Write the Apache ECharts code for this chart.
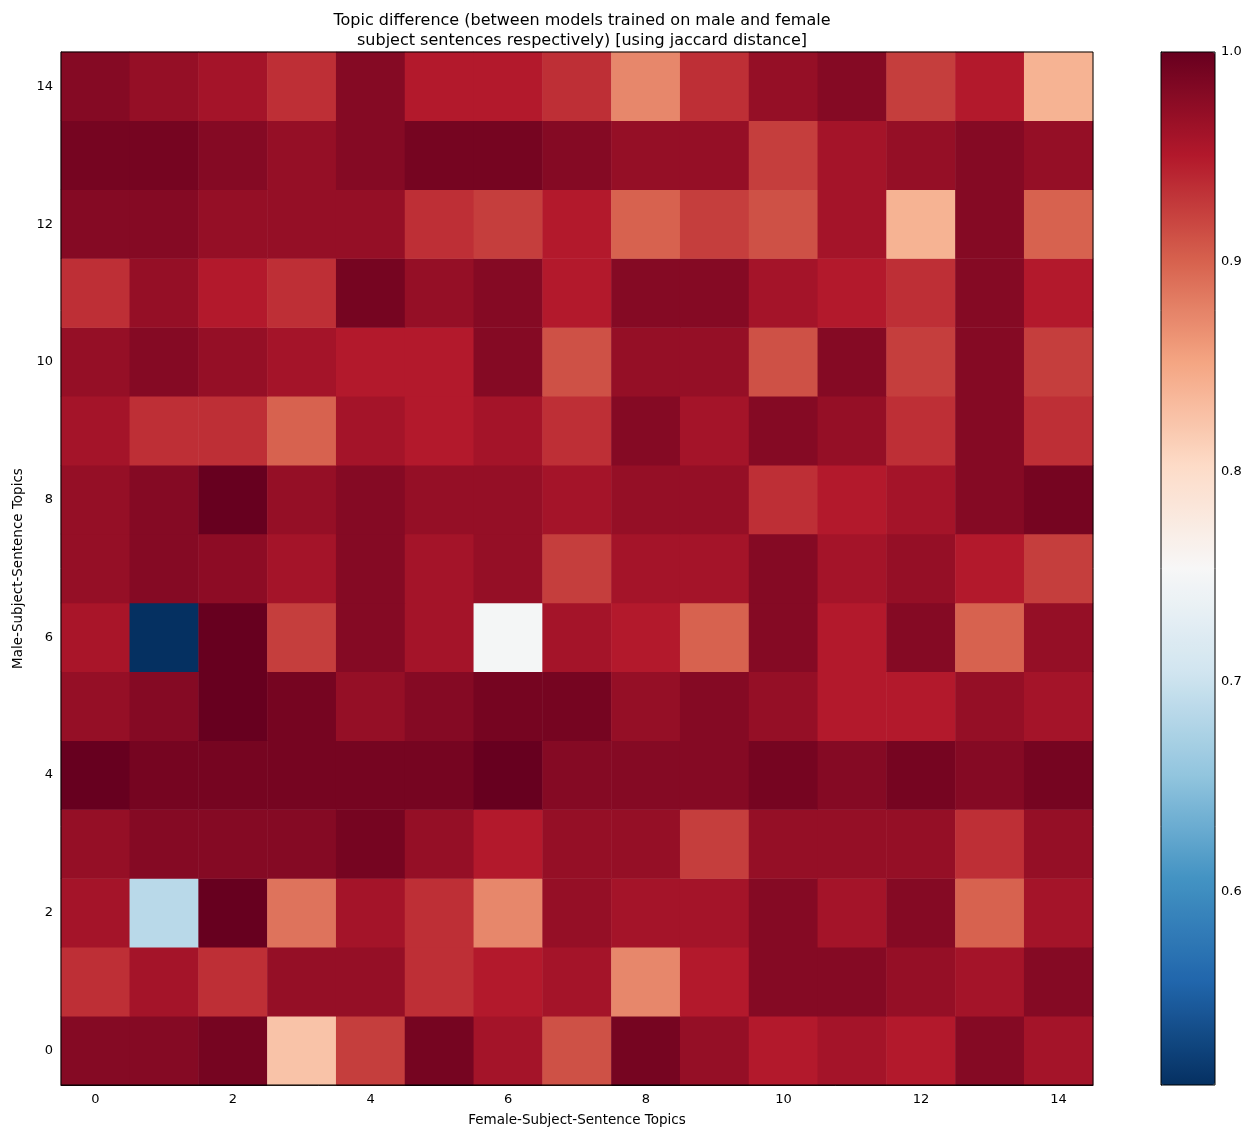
<!DOCTYPE html>
<html>
<head>
<meta charset="utf-8">
<script src="https://cdn.jsdelivr.net/npm/echarts@6/dist/echarts.min.js"></script>
<style>
  html, body { margin: 0; padding: 0; background: #fff; }
  #chart { width: 1257px; height: 1133px; }
</style>
</head>
<body>
<div id="chart"></div>
<script>
// topic ids on both axes
const femaleTopics = ['0', '1', '2', '3', '4', '5', '6', '7', '8', '9', '10', '11', '12', '13', '14']
const maleTopics = ['0', '1', '2', '3', '4', '5', '6', '7', '8', '9', '10', '11', '12', '13', '14']

// jaccard distance, one row per male topic (row 0 = bottom), columns = female topics
const row0 = [0.98, 0.98, 0.99, 0.825, 0.925, 0.99, 0.96, 0.912, 0.99, 0.97, 0.95, 0.96, 0.95, 0.98, 0.96]
const row1 = [0.935, 0.96, 0.935, 0.97, 0.97, 0.935, 0.95, 0.96, 0.874, 0.95, 0.98, 0.98, 0.97, 0.96, 0.98]
const row2 = [0.96, 0.686, 1.0, 0.888, 0.96, 0.935, 0.874, 0.97, 0.96, 0.96, 0.98, 0.96, 0.98, 0.90, 0.96]
const row3 = [0.97, 0.98, 0.98, 0.98, 0.99, 0.97, 0.95, 0.97, 0.97, 0.925, 0.97, 0.97, 0.97, 0.935, 0.97]
const row4 = [1.0, 0.99, 0.99, 0.99, 0.99, 0.99, 1.0, 0.98, 0.98, 0.98, 0.99, 0.98, 0.99, 0.98, 0.99]
const row5 = [0.97, 0.98, 1.0, 0.99, 0.97, 0.98, 0.99, 0.99, 0.97, 0.98, 0.97, 0.95, 0.95, 0.97, 0.96]
const row6 = [0.957, 0.508, 1.0, 0.925, 0.98, 0.96, 0.75, 0.96, 0.95, 0.90, 0.98, 0.95, 0.98, 0.90, 0.97]
const row7 = [0.97, 0.98, 0.975, 0.96, 0.98, 0.96, 0.97, 0.925, 0.96, 0.96, 0.98, 0.96, 0.97, 0.95, 0.925]
const row8 = [0.97, 0.98, 1.0, 0.97, 0.98, 0.97, 0.97, 0.96, 0.97, 0.97, 0.935, 0.95, 0.96, 0.98, 0.99]
const row9 = [0.96, 0.935, 0.935, 0.90, 0.96, 0.95, 0.96, 0.935, 0.98, 0.96, 0.98, 0.97, 0.935, 0.98, 0.935]
const row10 = [0.97, 0.98, 0.97, 0.96, 0.95, 0.95, 0.98, 0.912, 0.97, 0.97, 0.912, 0.98, 0.925, 0.98, 0.925]
const row11 = [0.935, 0.97, 0.95, 0.935, 0.99, 0.97, 0.98, 0.95, 0.98, 0.98, 0.96, 0.95, 0.935, 0.98, 0.95]
const row12 = [0.98, 0.98, 0.97, 0.97, 0.97, 0.935, 0.925, 0.95, 0.90, 0.925, 0.912, 0.96, 0.84, 0.98, 0.90]
const row13 = [0.99, 0.99, 0.98, 0.97, 0.98, 0.99, 0.99, 0.98, 0.97, 0.97, 0.925, 0.96, 0.97, 0.98, 0.97]
const row14 = [0.98, 0.97, 0.96, 0.935, 0.98, 0.95, 0.95, 0.935, 0.874, 0.935, 0.97, 0.98, 0.925, 0.95, 0.84]
const rows = [row0, row1, row2, row3, row4, row5, row6, row7, row8, row9, row10, row11, row12, row13, row14]

// colour scale range (matplotlib RdBu_r)
const vMin = 0.508
const vMax = 1.0
const rdBuR = ['#053061', '#2166ac', '#4393c3', '#92c5de', '#d1e5f0', '#f7f7f7',
  '#fddbc7', '#f4a582', '#d6604d', '#b2182b', '#67001f']

const font = 'DejaVu Sans'

const cells = []
rows.forEach((row, y) => {
  row.forEach((v, x) => {
    cells.push([x, y, v])
  })
})

const myChart = echarts.init(document.getElementById('chart'))
const option = {
  backgroundColor: '#fff',
  animation: false,
  title: {
    text: 'Topic difference (between models trained on male and female\nsubject sentences respectively) [using jaccard distance]',
    left: 577,
    top: 6,
    textAlign: 'center',
    textStyle: {
      fontFamily: font,
      fontWeight: 'normal',
      fontSize: 16,
      lineHeight: 20,
      color: '#000',
      align: 'center'
    }
  },
  grid: [{
    left: 61,
    top: 52,
    width: 1032,
    height: 1033,
    show: true,
    borderColor: '#000',
    borderWidth: 1,
    z: 5
  }, {
    left: 1161,
    top: 52,
    width: 54,
    height: 1033,
    show: true,
    backgroundColor: 'transparent',
    borderColor: '#000',
    borderWidth: 1,
    z: 10
  }],
  xAxis: [{
    type: 'category',
    gridIndex: 0,
    data: femaleTopics,
    name: 'Female-Subject-Sentence Topics',
    nameLocation: 'middle',
    nameGap: 28,
    nameTextStyle: { fontFamily: font, fontSize: 13.5, color: '#000' },
    axisLine: { lineStyle: { color: '#000' } },
    axisTick: { alignWithLabel: true, interval: 1, length: 4, lineStyle: { color: '#000' } },
    axisLabel: { interval: 1, fontFamily: font, fontSize: 13, color: '#000', margin: 8 },
    splitLine: { show: false }
  }, {
    type: 'value',
    gridIndex: 1,
    show: false,
    min: 0,
    max: 1
  }],
  yAxis: [{
    type: 'category',
    gridIndex: 0,
    data: maleTopics,
    name: 'Male-Subject-Sentence Topics',
    nameLocation: 'middle',
    nameGap: 36,
    nameRotate: 90,
    nameTextStyle: { fontFamily: font, fontSize: 13.5, color: '#000' },
    axisLine: { lineStyle: { color: '#000' } },
    axisTick: { alignWithLabel: true, interval: 1, length: 4, lineStyle: { color: '#000' } },
    axisLabel: { interval: 1, fontFamily: font, fontSize: 13, color: '#000', margin: 8 },
    splitLine: { show: false }
  }, {
    type: 'value',
    gridIndex: 1,
    position: 'right',
    min: vMin,
    max: vMax,
    splitNumber: 5,
    axisLine: { show: true, lineStyle: { color: '#000' } },
    axisTick: { show: true, length: 4, lineStyle: { color: '#000' } },
    axisLabel: {
      showMinLabel: false,
      fontFamily: font,
      fontSize: 13,
      color: '#000',
      margin: 6,
      formatter: v => v.toFixed(1)
    },
    splitLine: { show: false }
  }],
  visualMap: {
    type: 'continuous',
    seriesIndex: 0,
    min: vMin,
    max: vMax,
    calculable: false,
    realtime: false,
    left: 1161,
    top: 52,
    padding: 0,
    itemWidth: 54,
    itemHeight: 1033,
    text: null,
    showLabel: false,
    inRange: { color: rdBuR }
  },
  series: [{
    type: 'heatmap',
    xAxisIndex: 0,
    yAxisIndex: 0,
    data: cells,
    itemStyle: { borderWidth: 0 },
    emphasis: { disabled: true }
  }]
}
myChart.setOption(option)
</script>
</body>
</html>
